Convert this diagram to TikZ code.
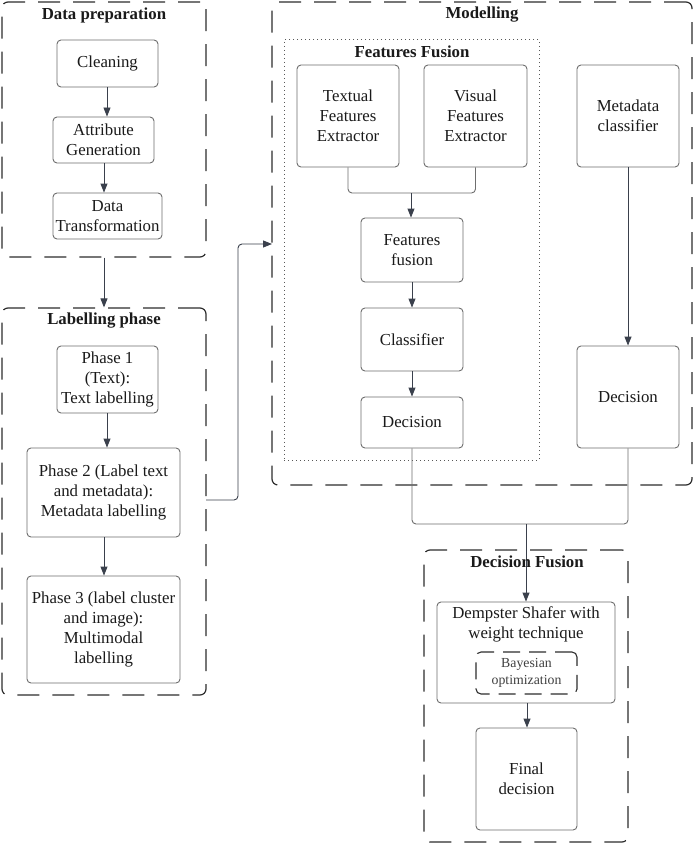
\documentclass[tikz,border=0pt]{standalone}
\usepackage{fontspec}
\setmainfont{Liberation Serif}
\usetikzlibrary{arrows.meta,calc}
\definecolor{boxline}{HTML}{6E6E6E}
\definecolor{contline}{HTML}{2E2E2E}
\definecolor{arrline}{HTML}{3A404C}
\definecolor{txt}{HTML}{1A1A1A}
\begin{document}
\begin{tikzpicture}[x=1pt,y=-1pt,
  every node/.style={text=txt},
  box/.style={draw=boxline,line width=0.9pt,rounded corners=4pt,inner sep=0pt,align=center,
    font=\fontsize{16.8}{20}\selectfont},
  cont/.style={draw=contline,line width=1.2pt,rounded corners=6pt,dash pattern=on 22pt off 13pt,inner sep=0pt},
  dotbox/.style={draw=contline!80,line width=1pt,dash pattern=on 0.8pt off 3.2pt,inner sep=0pt},
  ttl/.style={font=\fontsize{16.8}{20}\selectfont\bfseries,inner sep=0pt},
  arr/.style={draw=arrline,line width=0.9pt,-{Triangle[length=9pt,width=7pt]}},
  conn/.style={draw=boxline,line width=0.9pt,rounded corners=4pt},
]
\useasboundingbox[fill=white] (0,0) rectangle (694,845);

% containers
\node[cont,minimum width=204pt,minimum height=255pt] (dp) at (104,129.5) {};
\node[cont,minimum width=204pt,minimum height=387pt] (lp) at (104,501.5) {};
\node[cont,minimum width=420pt,minimum height=483pt] (mod) at (482,243.5) {};
\node[dotbox,minimum width=255pt,minimum height=420pt] (ff) at (411.5,250) {};
\node[cont,minimum width=204pt,minimum height=292pt] (df) at (526,696) {};

% titles
\node[ttl] (tdp) at (104,15) {Data preparation};
\node[ttl] (tlp) at (104,321) {Labelling phase};
\node[ttl] (tmod) at (482,15) {Modelling};
\node[ttl] (tff) at (412,52) {Features Fusion};

% data preparation
\node[box,minimum width=101pt,minimum height=47pt] (clean) at (107.5,63.5) {Cleaning};
\node[box,minimum width=101pt,minimum height=46pt] (attr) at (103.5,140) {Attribute\\Generation};
\node[box,minimum width=109pt,minimum height=46pt] (dt) at (107.5,216) {Data\\Transformation};

% labelling
\node[box,minimum width=101pt,minimum height=67pt] (p1) at (107.5,379.5) {Phase 1\\(Text):\\Text labelling};
\node[box,minimum width=153pt,minimum height=89pt] (p2) at (103.5,492.5) {Phase 2 (Label text\\and metadata):\\Metadata labelling};
\node[box,minimum width=153pt,minimum height=107pt] (p3) at (103.5,629.5) {Phase 3 (label cluster\\and image):\\Multimodal\\labelling};

% modelling
\node[box,minimum width=102pt,minimum height=102pt] (tfe) at (348,116) {Textual\\Features\\Extractor};
\node[box,minimum width=103pt,minimum height=102pt] (vfe) at (475.5,116) {Visual\\Features\\Extractor};
\node[box,minimum width=102pt,minimum height=102pt] (mc) at (628,116) {Metadata\\classifier};
\node[box,minimum width=102pt,minimum height=64pt] (ffn) at (412,250) {Features\\fusion};
\node[box,minimum width=102pt,minimum height=63pt] (cls) at (412,339.5) {Classifier};
\node[box,minimum width=102pt,minimum height=51pt] (dec1) at (412,422.5) {Decision};
\node[box,minimum width=102pt,minimum height=102pt] (dec2) at (628,397) {Decision};

% decision fusion
\node[box,minimum width=178pt,minimum height=101pt] (ds) at (526,652.5) {};
\node[inner sep=0pt,align=center,font=\fontsize{16.8}{20}\selectfont] (dstext) at (526,624) {Dempster Shafer with\\weight technique};
\node[draw=contline,line width=1.1pt,rounded corners=5pt,dash pattern=on 17pt off 9pt,inner sep=0pt,
  minimum width=101pt,minimum height=42pt,align=center,text=black!75,
  font=\fontsize{13.8}{17}\selectfont] (bayes) at (526.5,673) {Bayesian\\optimization};
\node[box,minimum width=101pt,minimum height=102pt] (final) at (526.5,779) {Final\\decision};

% connectors
\draw[arr] (clean.south -| 107,0) -- (attr.north -| 107,0);
\draw[arr] (attr.south -| 104,0) -- (dt.north -| 104,0);
\draw[arr] (dp.south) -- (lp.north);
\draw[arr] (p1.south -| 107,0) -- (p2.north -| 107,0);
\draw[arr] (p2.south -| 104,0) -- (p3.north -| 104,0);

\coordinate (l2m) at (206,500);
\coordinate (m2) at (272,244);
\draw[conn,arr,rounded corners=4pt] (l2m) -- (238,500) -- (238,244) -- (m2);

\coordinate (j1) at (411,193);
\draw[conn] (tfe.south) |- (j1) -| (vfe.south);
\draw[arr] (j1) -- (ffn.north -| j1);
\draw[arr] (ffn.south) -- (cls.north);
\draw[arr] (cls.south) -- (dec1.north);
\draw[arr] (mc.south) -- (dec2.north);

\coordinate (j2) at (526,524);
\draw[conn] (dec1.south) |- (j2) -| (dec2.south);
\draw[arr] (j2) -- (ds.north -| j2);
\node[ttl] (tdf) at (527,562) {Decision Fusion};
\draw[arr] (ds.south -| 527,0) -- (final.north -| 527,0);
\end{tikzpicture}
\end{document}
